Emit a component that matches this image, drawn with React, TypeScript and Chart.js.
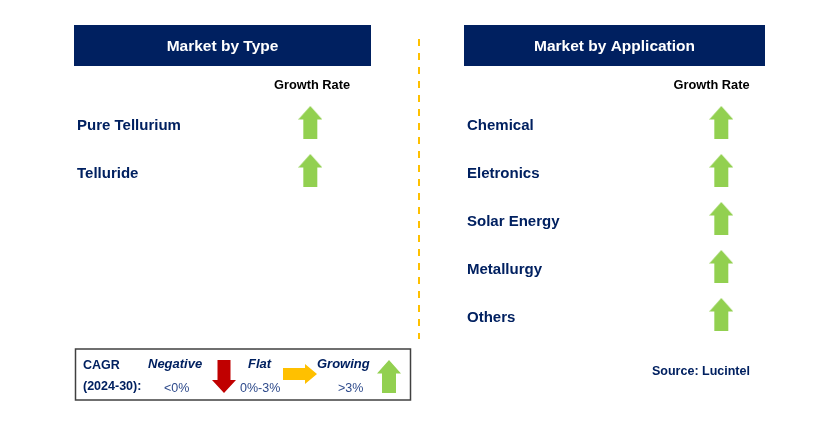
import React, { useEffect, useRef } from "react";
import { Chart, registerables } from "chart.js";

Chart.register(...registerables);

// ---- data ----
const panelTitles = ["Market by Type", "Market by Application"];
const columnTitle = "Growth Rate";
const typeSegments = ["Pure Tellurium", "Telluride"];
const typeGrowth = ["Growing", "Growing"];
const appSegments = ["Chemical", "Eletronics", "Solar Energy", "Metallurgy", "Others"];
const appGrowth = ["Growing", "Growing", "Growing", "Growing", "Growing"];
const cagrTitle = ["CAGR", "(2024-30):"];
const cagrClasses = ["Negative", "Flat", "Growing"];
const cagrRanges = ["<0%", "0%-3%", ">3%"];
const sourceText = "Source: Lucintel";

// ---- layout / style ----
const W = 829;
const H = 442;
const FONT = '"Liberation Sans", Arial, sans-serif';
const NAVY = "#002060";
const RANGE_BLUE = "#2E4A8B";
const GREEN = "#92D050";
const RED = "#C00000";
const ORANGE = "#FFC000";

const L = {
  rowTop: 98.5,
  rowBottom: 338.5,
  rows: 5,
  panels: [
    { boxX: 74, boxW: 297, labelX: 77, arrowX: 309, growthX: 312 },
    { boxX: 464, boxW: 301, labelX: 467, arrowX: 725, growthX: 711.5 },
  ],
  boxY: 25,
  boxH: 41,
  titleBase: 51,
  growthBase: 89,
  labelDy: 6,
  divider: { x: 419, y0: 39, y1: 339 },
  legend: { x: 75.5, y: 349, w: 335, h: 51 },
};

function makeArrow(dir: "up" | "down" | "right", color: string): HTMLCanvasElement {
  const c = document.createElement("canvas");
  if (dir === "right") { c.width = 34; c.height = 20; } else { c.width = 24; c.height = 33; }
  const ctx = c.getContext("2d")!;
  ctx.fillStyle = color;
  ctx.beginPath();
  if (dir === "up") {
    ctx.moveTo(12, 0); ctx.lineTo(24, 13.5); ctx.lineTo(19, 13.5); ctx.lineTo(19, 33);
    ctx.lineTo(5, 33); ctx.lineTo(5, 13.5); ctx.lineTo(0, 13.5);
  } else if (dir === "down") {
    ctx.moveTo(5.5, 0); ctx.lineTo(18.5, 0); ctx.lineTo(18.5, 20); ctx.lineTo(24, 20);
    ctx.lineTo(12, 33); ctx.lineTo(0, 20); ctx.lineTo(5.5, 20);
  } else {
    ctx.moveTo(0, 4); ctx.lineTo(22, 4); ctx.lineTo(22, 0); ctx.lineTo(34, 10);
    ctx.lineTo(22, 20); ctx.lineTo(22, 16); ctx.lineTo(0, 16);
  }
  ctx.closePath();
  ctx.fill();
  return c;
}

export default function App() {
  const ref = useRef<HTMLCanvasElement>(null);

  useEffect(() => {
    const arrows: Record<string, HTMLCanvasElement> = {
      Growing: makeArrow("up", GREEN),
      Negative: makeArrow("down", RED),
      Flat: makeArrow("right", ORANGE),
    };

    const typePoints = typeSegments.map((s, i) => ({ x: L.panels[0].arrowX, y: i, growth: typeGrowth[i], label: s }));
    const appPoints = appSegments.map((s, i) => ({ x: L.panels[1].arrowX, y: i, growth: appGrowth[i], label: s }));

    const textPlugin = {
      id: "infographic",
      beforeDatasetsDraw(chart: any) {
        const ctx = chart.ctx as CanvasRenderingContext2D;
        const yS = chart.scales.y;
        ctx.save();
        // headers
        L.panels.forEach((p, k) => {
          ctx.fillStyle = NAVY;
          ctx.fillRect(p.boxX, L.boxY, p.boxW, L.boxH);
          ctx.fillStyle = "#ffffff";
          ctx.font = `bold 15.5px ${FONT}`;
          ctx.textAlign = "center";
          ctx.textBaseline = "alphabetic";
          ctx.fillText(panelTitles[k], p.boxX + p.boxW / 2, L.titleBase);
          ctx.fillStyle = "#000000";
          ctx.font = `bold 12.8px ${FONT}`;
          ctx.fillText(columnTitle, p.growthX, L.growthBase);
        });
        // row labels
        ctx.textAlign = "left";
        ctx.fillStyle = NAVY;
        ctx.font = `bold 15px ${FONT}`;
        typeSegments.forEach((s, i) => {
          ctx.fillText(s, L.panels[0].labelX, yS.getPixelForValue(i) + 1.5 + L.labelDy);
        });
        appSegments.forEach((s, i) => {
          ctx.fillText(s, L.panels[1].labelX, yS.getPixelForValue(i) + 1.5 + L.labelDy);
        });
        // divider
        ctx.strokeStyle = ORANGE;
        ctx.lineWidth = 2;
        ctx.setLineDash([7, 7]);
        ctx.beginPath();
        ctx.moveTo(L.divider.x, L.divider.y0);
        ctx.lineTo(L.divider.x, L.divider.y1);
        ctx.stroke();
        ctx.setLineDash([]);
        // legend box
        const lg = L.legend;
        ctx.strokeStyle = "#404040";
        ctx.lineWidth = 1.5;
        ctx.strokeRect(lg.x, lg.y, lg.w, lg.h);
        ctx.fillStyle = NAVY;
        ctx.font = `bold 12.5px ${FONT}`;
        ctx.fillText(cagrTitle[0], 83, 369);
        ctx.fillText(cagrTitle[1], 83, 390);
        const classX = [148, 248, 317];
        const rangeX = [164, 240, 338];
        ctx.font = `italic bold 13px ${FONT}`;
        cagrClasses.forEach((c, i) => ctx.fillText(c, classX[i], 368));
        ctx.fillStyle = RANGE_BLUE;
        ctx.font = `12.5px ${FONT}`;
        cagrRanges.forEach((r, i) => ctx.fillText(r, rangeX[i], 392));
        ctx.drawImage(arrows[cagrClasses[0]], 212, 360);
        ctx.drawImage(arrows[cagrClasses[1]], 283, 364);
        ctx.drawImage(arrows[cagrClasses[2]], 377, 360);
        // source
        ctx.fillStyle = NAVY;
        ctx.font = `bold 12.5px ${FONT}`;
        ctx.fillText(sourceText, 652, 374.5);
        ctx.restore();
      },
    };

    const chart = new Chart(ref.current!, {
      type: "scatter",
      data: {
        datasets: [
          {
            label: panelTitles[0],
            data: typePoints as any,
            pointStyle: (c: any) => arrows[c.raw?.growth ?? "Growing"],
          } as any,
          {
            label: panelTitles[1],
            data: appPoints as any,
            pointStyle: (c: any) => arrows[c.raw?.growth ?? "Growing"],
          } as any,
        ],
      },
      options: {
        animation: false,
        responsive: false,
        layout: { padding: { left: 0, right: 0, top: L.rowTop, bottom: H - L.rowBottom } },
        scales: {
          x: { type: "linear", min: 0, max: W, display: false },
          y: { type: "linear", min: -0.5, max: L.rows - 0.5, reverse: true, display: false },
        },
        plugins: { legend: { display: false }, tooltip: { enabled: false } },
        events: [],
      },
      plugins: [textPlugin],
    });
    return () => chart.destroy();
  }, []);

  return (
    <div style={{ position: "absolute", left: 0, top: 0, width: W, height: H, background: "#fff" }}>
      <canvas ref={ref} width={W} height={H} style={{ width: W, height: H, display: "block" }} />
    </div>
  );
}
